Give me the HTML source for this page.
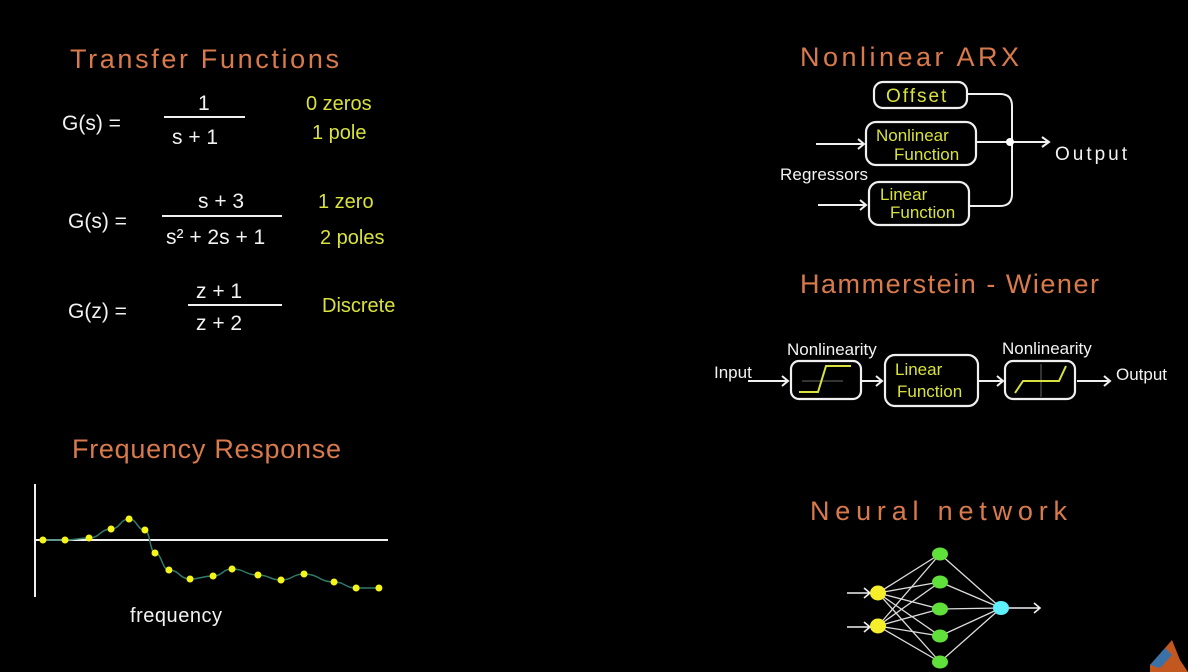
<!DOCTYPE html>
<html><head><meta charset="utf-8"><style>
body{margin:0;background:#000;width:1188px;height:672px;overflow:hidden}
svg{display:block}
text{font-family:"Liberation Sans",sans-serif}
.h{fill:#d97a4c;font-size:27px;letter-spacing:1px}
.w{fill:#f2f2f2;font-size:21px}
.y{fill:#d9e23c;font-size:20px}
.ln{stroke:#f0f0f0;stroke-width:2;fill:none}
.box{stroke:#f0f0f0;stroke-width:2.2;fill:none}
</style></head><body>
<svg id="s" width="1188" height="672">
<text class="h" x="70" y="68" textLength="270" lengthAdjust="spacing">Transfer Functions</text>
<g>
<text class="w" x="62" y="130">G(s) =</text><text class="w" x="198" y="110">1</text>
<line class="ln" x1="164" y1="117" x2="245" y2="117"/><text class="w" x="172" y="144">s + 1</text>
<text class="y" x="306" y="110">0 zeros</text><text class="y" x="312" y="139">1 pole</text></g>
<g>
<text class="w" x="68" y="228">G(s) =</text><text class="w" x="198" y="208">s + 3</text>
<line class="ln" x1="162" y1="216" x2="282" y2="216"/><text class="w" x="166" y="244">s² + 2s + 1</text>
<text class="y" x="318" y="208">1 zero</text><text class="y" x="320" y="244">2 poles</text></g>
<g>
<text class="w" x="68" y="318">G(z) =</text><text class="w" x="196" y="298">z + 1</text>
<line class="ln" x1="188" y1="305" x2="282" y2="305"/><text class="w" x="196" y="330">z + 2</text>
<text class="y" x="322" y="312">Discrete</text></g>

<text class="h" x="72" y="458" textLength="270" lengthAdjust="spacing">Frequency  Response</text>
<g id="fr">
<line class="ln" x1="35" y1="484" x2="35" y2="597"/>
<line class="ln" x1="35" y1="540" x2="388" y2="540"/>
<text class="w" x="130" y="622" textLength="92" style="font-size:20px">frequency</text>
</g>

<text class="h" x="800" y="66" textLength="220" lengthAdjust="spacing">Nonlinear ARX</text>
<g>
<rect class="box" x="874" y="82" width="93" height="26" rx="9"/>
<text class="y" x="886" y="102" style="font-size:19px;letter-spacing:2px">Offset</text>
<rect class="box" x="866" y="122" width="110" height="43" rx="10"/>
<text class="y" x="876" y="141" style="font-size:17px">Nonlinear</text><text class="y" x="894" y="160" style="font-size:17px">Function</text>
<rect class="box" x="869" y="182" width="100" height="43" rx="10"/>
<text class="y" x="880" y="200" style="font-size:17px">Linear</text><text class="y" x="890" y="218" style="font-size:17px">Function</text>
<path class="ln" d="M816 144H864M858 139l6 5-6 5M818 205H866M860 200l6 5-6 5"/>
<path class="ln" d="M968 94H1000Q1012 94 1012 106V194Q1012 206 1000 206H970M977 142H1048M1042 137l7 5-7 5"/>
<circle cx="1010" cy="142" r="4" fill="#fff"/>
<text class="w" x="780" y="180" textLength="88" style="font-size:17px">Regressors</text>
<text class="w" x="1055" y="160" textLength="72" style="font-size:19px">Output</text></g>

<text class="h" x="800" y="293" textLength="300" lengthAdjust="spacing">Hammerstein - Wiener</text>
<g>
<text class="w" x="714" y="378" style="font-size:17px">Input</text>
<path class="ln" d="M748 381H788M782 376l6 5-6 5M862 381H882M876 376l6 5-6 5M978 381H1003M997 376l6 5-6 5M1077 381H1110M1104 376l6 5-6 5"/>
<text class="w" x="787" y="355" style="font-size:17px">Nonlinearity</text>
<text class="w" x="1002" y="354" style="font-size:17px">Nonlinearity</text>
<rect class="box" x="791" y="361" width="70" height="38" rx="8"/>
<line x1="802" y1="381" x2="843" y2="381" stroke="#444" stroke-width="1.5"/>
<path d="M799 392H818L826 366H851" stroke="#d9e23c" stroke-width="2" fill="none"/>
<rect class="box" x="885" y="355" width="93" height="51" rx="10"/>
<text class="y" x="895" y="375" style="font-size:17px">Linear</text><text class="y" x="897" y="397" style="font-size:17px">Function</text>
<rect class="box" x="1005" y="361" width="70" height="38" rx="8"/>
<line x1="1041" y1="364" x2="1041" y2="397" stroke="#444" stroke-width="1.5"/>
<path d="M1015 393L1023 381H1059L1066 366" stroke="#d9e23c" stroke-width="2" fill="none"/>
<text class="w" x="1116" y="380" style="font-size:17px">Output</text></g>

<text class="h" x="810" y="520" textLength="258" lengthAdjust="spacing">Neural  network</text>
<g id="nn">
<path class="ln" d="M847 593H870M864 588l6 5-6 5M847 627H870M864 622l6 5-6 5M1008 608H1040M1034 603l6 5-6 5" style="stroke-width:1.6"/>
</g>
<path d="M1150 665L1165 648L1172 640L1180 660L1188 672H1150Z" fill="#c2581f"/>
<path d="M1150 665L1165 648L1172 655L1160 668Z" fill="#3a72a8"/>
</svg>
<script>
const freq=[0.33,1.25,2.25,3.17,3.92,4.58,5.0,5.58,6.46,7.42,8.21,9.29,10.25,11.21,12.46,13.38,14.33];
const magnitude=[0,0,0.1,0.55,1.05,0.5,-0.65,-1.5,-1.95,-1.8,-1.45,-1.75,-2.0,-1.7,-2.1,-2.4,-2.4];
const NS="http://www.w3.org/2000/svg";
const fx=f=>35+f*24, fy=m=>540-m*20;
const fr=document.getElementById('fr');
let d="M"+fx(freq[0])+" "+fy(magnitude[0]);
for(let i=1;i<freq.length;i++){const x0=fx(freq[i-1]),x1=fx(freq[i]);const mx=(x0+x1)/2;d+=` C${mx} ${fy(magnitude[i-1])} ${mx} ${fy(magnitude[i])} ${x1} ${fy(magnitude[i])}`;}
const p=document.createElementNS(NS,'path');p.setAttribute('d',d);p.setAttribute('stroke','#2f7a6a');p.setAttribute('stroke-width','1.5');p.setAttribute('fill','none');


fr.appendChild(p);
freq.forEach((f,i)=>{const c=document.createElementNS(NS,'circle');c.setAttribute('cx',fx(f));c.setAttribute('cy',fy(magnitude[i]));c.setAttribute('r','3.5');c.setAttribute('fill','#f5f51a');


fr.appendChild(c);});
const nn=document.getElementById('nn');
const inp=[[878,593],[878,626]],hid=[[940,554],[940,582],[940,609],[940,636],[940,662]],out=[1001,608];
const add=(tag,a)=>{const e=document.createElementNS(NS,tag);for(const k in a)e.setAttribute(k,a[k]);nn.appendChild(e);return e;};
inp.forEach(a=>hid.forEach(b=>{add('line',{x1:a[0],y1:a[1],x2:b[0],y2:b[1],stroke:'#ddd','stroke-width':1.3});}));
hid.forEach(b=>add('line',{x1:b[0],y1:b[1],x2:out[0],y2:out[1],stroke:'#ddd','stroke-width':1.3}));
inp.forEach(a=>{const e=add('ellipse',{cx:a[0],cy:a[1],rx:8,ry:7.5,fill:'#f5ee2a'});

});
hid.forEach(b=>{const e=add('ellipse',{cx:b[0],cy:b[1],rx:8,ry:6.5,fill:'#5fe03a'});

});
const o=add('ellipse',{cx:out[0],cy:out[1],rx:8,ry:7,fill:'#5ff0ff'});


</script>
</body></html>
